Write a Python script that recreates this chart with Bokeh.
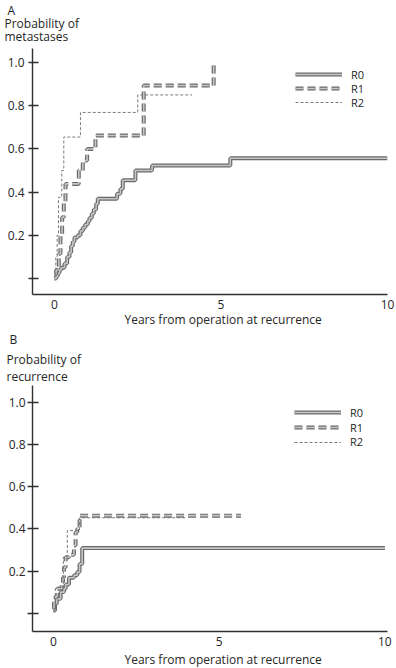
from bokeh.plotting import figure
from bokeh.layouts import column
from bokeh.models import Legend, LegendItem, Title, FixedTicker, NumeralTickFormatter, Range1d
from bokeh.embed import file_html
from bokeh.resources import INLINE

# ---------------- data ----------------
# Panel A: probability of metastases
a_r0_t = [0, 0.05, 0.10, 0.15, 0.20, 0.30, 0.38, 0.45, 0.50, 0.55, 0.60, 0.70, 0.78, 0.85, 0.92,
          1.00, 1.05, 1.12, 1.18, 1.25, 1.30, 1.88, 1.98, 2.05, 2.43, 2.93, 5.28, 10.0]
a_r0_p = [0.0, 0.01, 0.025, 0.04, 0.05, 0.07, 0.10, 0.12, 0.15, 0.17, 0.19, 0.20, 0.22, 0.235, 0.25,
          0.265, 0.28, 0.30, 0.32, 0.345, 0.369, 0.392, 0.415, 0.455, 0.50, 0.523, 0.557, 0.557]
a_r1_t = [0, 0.05, 0.13, 0.18, 0.23, 0.28, 0.33, 0.73, 0.85, 0.98, 1.23, 2.68, 4.78]
a_r1_p = [0.02, 0.04, 0.115, 0.20, 0.284, 0.35, 0.438, 0.50, 0.546, 0.60, 0.662, 0.894, 0.995]
a_r2_t = [0, 0.04, 0.08, 0.12, 0.22, 0.28, 0.78, 2.50, 4.13]
a_r2_p = [0.02, 0.10, 0.20, 0.376, 0.50, 0.655, 0.769, 0.85, 0.85]

# Panel B: probability of recurrence
b_r0_t = [0, 0.05, 0.10, 0.22, 0.32, 0.37, 0.47, 0.62, 0.72, 0.79, 0.87, 10.0]
b_r0_p = [0.013, 0.045, 0.068, 0.10, 0.116, 0.136, 0.168, 0.18, 0.195, 0.234, 0.309, 0.309]
b_r1_t = [0, 0.02, 0.07, 0.12, 0.25, 0.29, 0.32, 0.37, 0.47, 0.62, 0.67, 0.72, 0.79, 5.66]
b_r1_p = [0.02, 0.06, 0.08, 0.116, 0.139, 0.17, 0.218, 0.266, 0.277, 0.321, 0.384, 0.40, 0.463, 0.463]
b_r2_t = [0, 0.06, 0.30, 0.42, 0.79, 4.0]
b_r2_p = [0.02, 0.123, 0.266, 0.392, 0.453, 0.453]

y_ticks = [0, 0.2, 0.4, 0.6, 0.8, 1.0]
x_ticks = [0, 5, 10]
series_names = ["R0", "R1", "R2"]
x_title = "Years from operation at recurrence"

FONT = "Open Sans"
TXT = "#262626"
DARK = "#6a6a6a"
LIGHT = "#c6c6c6"


def title(text, offset, standoff, valign):
    return Title(text=text, align="left", offset=offset, standoff=standoff,
                 vertical_align=valign, text_font=FONT, text_font_size="12px",
                 text_font_style="normal", text_color=TXT)


def panel(letter, ylab1, ylab2, data, xr, yr, height, top, bottom, left,
          tick_out, label_standoff, stand, xt_stand, legend_x, legend_ys):
    p = figure(width=396, height=height, x_range=Range1d(*xr), y_range=Range1d(*yr),
               output_backend="svg", toolbar_location=None, title=None,
               min_border_left=left, min_border_right=9, min_border_top=top,
               min_border_bottom=bottom)
    p.outline_line_color = None
    p.grid.visible = False
    p.background_fill_color = "white"

    for ax in (p.xaxis[0], p.yaxis[0]):
        ax.axis_line_color = "#303030"
        ax.axis_line_width = 1.4
        ax.major_tick_line_color = "#303030"
        ax.major_tick_line_width = 1.4
        ax.minor_tick_line_color = None
        ax.major_label_text_font = FONT
        ax.major_label_text_font_size = "12px"
        ax.major_label_text_color = TXT
    p.xaxis.ticker = FixedTicker(ticks=x_ticks)
    p.xaxis.major_tick_in = 0
    p.xaxis.major_tick_out = 0
    p.xaxis.major_label_standoff = 5
    p.yaxis.ticker = FixedTicker(ticks=y_ticks)
    p.yaxis.formatter = NumeralTickFormatter(format="0.0")
    p.yaxis.major_label_overrides = {0: ""}
    p.yaxis.major_tick_in = 6
    p.yaxis.major_tick_out = tick_out
    p.yaxis.major_label_standoff = label_standoff

    (r0t, r0p), (r1t, r1p), (r2t, r2p) = data
    r0a = p.step(r0t, r0p, mode="after", line_color=DARK, line_width=4)
    r0b = p.step(r0t, r0p, mode="after", line_color=LIGHT, line_width=1.6)
    r1a = p.step(r1t, r1p, mode="after", line_color=DARK, line_width=4, line_dash="8 4")
    r1b = p.step(r1t, r1p, mode="after", line_color=LIGHT, line_width=1.6, line_dash="8 4")
    r2 = p.step(r2t, r2p, mode="after", line_color="#7a7a7a", line_width=1, line_dash="3 2")

    groups = [[r0a, r0b], [r1a, r1b], [r2]]
    for name, rends, ly in zip(series_names, groups, legend_ys):
        leg = Legend(items=[LegendItem(label=name, renderers=rends)],
                     location=(legend_x, ly), glyph_width=47, glyph_height=14,
                     label_height=14, label_standoff=9, spacing=0, padding=0, margin=0,
                     border_line_color=None, background_fill_alpha=0,
                     label_text_font=FONT, label_text_font_size="11px",
                     label_text_color=TXT)
        p.add_layout(leg, "center")

    # titles above: first added is closest to the plot
    p.add_layout(title(ylab2, -left + 4, stand[0], "top"), "above")
    p.add_layout(title(ylab1, -left + 4, stand[1], "top"), "above")
    p.add_layout(title(letter, -left + 7, stand[2], "top"), "above")
    # x title below the axis
    p.add_layout(title(x_title, 92, xt_stand, "bottom"), "below")
    return p


pa = panel("A", "Probability of", "metastases",
           [(a_r0_t, a_r0_p), (a_r1_t, a_r1_p), (a_r2_t, a_r2_p)],
           xr=(-0.66, 10.0), yr=(-0.074, 1.065), height=329, top=48, bottom=35, left=32,
           tick_out=4, label_standoff=4, stand=(1.6, -14.2, 3.2), xt_stand=-5.0,
           legend_x=263, legend_ys=(212.5, 198.2, 184.2))
pb = panel("B", "Probability of", "recurrence",
           [(b_r0_t, b_r0_p), (b_r1_t, b_r1_p), (b_r2_t, b_r2_p)],
           xr=(-0.63, 10.08), yr=(-0.087, 1.081), height=339, top=56, bottom=37, left=30,
           tick_out=5, label_standoff=2, stand=(-4.4, 1.2, 2.0), xt_stand=1.0,
           legend_x=262, legend_ys=(211.2, 196.5, 181.8))

layout = column(pa, pb, spacing=0)
open("out.html", "w").write(file_html(layout, INLINE))
